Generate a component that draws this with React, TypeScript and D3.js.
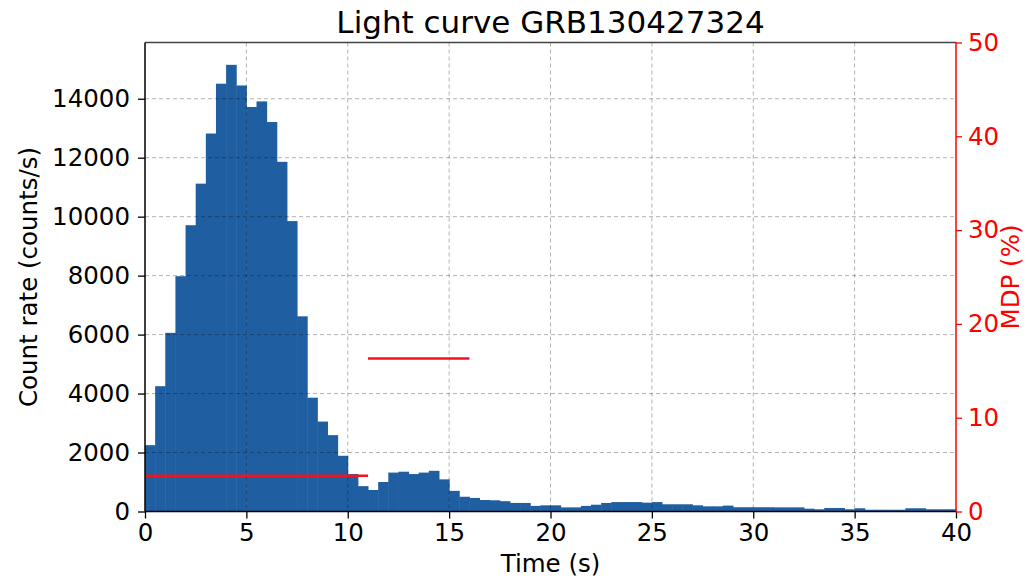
import React, { useRef, useEffect } from "react";
import * as d3 from "d3";

// light curve, 0.5 s bins from 0 to 40 s
const binWidth = 0.5;
const countRates = [
  2250, 4250, 6060, 7980, 9710, 11120, 12820, 14510, 15150, 14450,
  13720, 13910, 13210, 11860, 9850, 6620, 3860, 3050, 2590, 1890,
  1270, 860, 730, 1000, 1320, 1350, 1270, 1320, 1380, 1090,
  700, 500, 460, 390, 380, 350, 290, 290, 190, 210,
  210, 140, 140, 190, 230, 290, 320, 320, 320, 300,
  320, 245, 245, 245, 210, 175, 175, 200, 145, 145,
  145, 145, 140, 140, 140, 95, 75, 120, 120, 75,
  110, 60, 60, 60, 60, 110, 110, 75, 75, 75,
];

// MDP segments [start, end, mdp %]
const mdpSegments: [number, number, number][] = [
  [0, 11, 3.8],
  [11, 16, 16.3],
];

const xTicks = [0, 5, 10, 15, 20, 25, 30, 35, 40];
const yTicks = [0, 2000, 4000, 6000, 8000, 10000, 12000, 14000];
const mdpTicks = [0, 10, 20, 30, 40, 50];

const W = 1026;
const H = 579;
const margin = { top: 42.5, right: 70, bottom: 67.5, left: 145 };

const App: React.FC = () => {
  const svgRef = useRef<SVGSVGElement>(null);

  useEffect(() => {
    const svg = d3.select(svgRef.current);
    svg.selectAll("*").remove();
    const font = "DejaVu Sans, sans-serif";
    const fs = 24.5;
    const left = margin.left;
    const right = W - margin.right;
    const top = margin.top;
    const bottom = H - margin.bottom;

    const x = d3.scaleLinear().domain([0, 40]).range([left, right]);
    const yMax = (d3.max(countRates) ?? 0) * 1.05;
    const y = d3.scaleLinear().domain([0, yMax]).range([bottom, top]);
    const y2 = d3.scaleLinear().domain([0, 50]).range([bottom, top]);

    svg
      .append("g")
      .selectAll("rect")
      .data(countRates)
      .enter()
      .append("rect")
      .attr("x", (_d: number, i: number) => x(i * binWidth))
      .attr("y", (d: number) => y(d))
      .attr("width", x(binWidth) - x(0) + 0.5)
      .attr("height", (d: number) => y(0) - y(d))
      .attr("fill", "#1f5fa1");

    const grid = svg
      .append("g")
      .attr("stroke", "#000")
      .attr("stroke-opacity", 0.3)
      .attr("stroke-width", 1)
      .attr("stroke-dasharray", "4,3");
    grid
      .selectAll(".gx")
      .data(xTicks.slice(1, -1))
      .enter()
      .append("line")
      .attr("x1", (d: number) => x(d))
      .attr("x2", (d: number) => x(d))
      .attr("y1", top)
      .attr("y2", bottom);
    grid
      .selectAll(".gy")
      .data(yTicks.slice(1))
      .enter()
      .append("line")
      .attr("x1", left)
      .attr("x2", right)
      .attr("y1", (d: number) => y(d))
      .attr("y2", (d: number) => y(d));

    svg
      .append("g")
      .selectAll("line")
      .data(mdpSegments)
      .enter()
      .append("line")
      .attr("x1", (d: [number, number, number]) => x(d[0]))
      .attr("x2", (d: [number, number, number]) => x(d[1]))
      .attr("y1", (d: [number, number, number]) => y2(d[2]))
      .attr("y2", (d: [number, number, number]) => y2(d[2]))
      .attr("stroke", "#f0141e")
      .attr("stroke-width", 2.5);

    // spines
    svg.append("line").attr("x1", left).attr("x2", right).attr("y1", top).attr("y2", top)
      .attr("stroke", "#444").attr("stroke-width", 1.5);
    svg.append("line").attr("x1", left).attr("x2", right).attr("y1", bottom).attr("y2", bottom)
      .attr("stroke", "#000").attr("stroke-width", 1.5);
    svg.append("line").attr("x1", left).attr("x2", left).attr("y1", top).attr("y2", bottom)
      .attr("stroke", "#000").attr("stroke-width", 1.5);
    svg.append("line").attr("x1", right).attr("x2", right).attr("y1", top).attr("y2", bottom)
      .attr("stroke", "#ff0000").attr("stroke-width", 1.5);

    const xAxis = svg
      .append("g")
      .attr("transform", `translate(0,${bottom})`)
      .call(d3.axisBottom(x).tickValues(xTicks).tickSize(7).tickPadding(5));
    const yAxis = svg
      .append("g")
      .attr("transform", `translate(${left},0)`)
      .call(d3.axisLeft(y).tickValues(yTicks).tickSize(7).tickPadding(8).tickFormat(d3.format("d")));
    const y2Axis = svg
      .append("g")
      .attr("transform", `translate(${right},0)`)
      .call(d3.axisRight(y2).tickValues(mdpTicks).tickSize(6).tickPadding(6));

    [xAxis, yAxis, y2Axis].forEach((g) => {
      g.select(".domain").remove();
      g.selectAll("text").attr("font-family", font).attr("font-size", fs);
      g.selectAll("line").attr("stroke-width", 1.3);
    });
    xAxis.selectAll("text").attr("fill", "#000");
    yAxis.selectAll("text").attr("fill", "#000");
    y2Axis.selectAll("line").attr("stroke", "#ff0000");
    y2Axis.selectAll("text").attr("fill", "#ff0000");

    svg
      .append("text")
      .attr("x", (left + right) / 2)
      .attr("y", 33)
      .attr("text-anchor", "middle")
      .attr("font-family", font)
      .attr("font-size", 31)
      .text("Light curve GRB130427324");

    svg
      .append("text")
      .attr("x", (left + right) / 2)
      .attr("y", 572)
      .attr("text-anchor", "middle")
      .attr("font-family", font)
      .attr("font-size", fs)
      .text("Time (s)");

    svg
      .append("text")
      .attr("transform", `translate(37,${(top + bottom) / 2}) rotate(-90)`)
      .attr("text-anchor", "middle")
      .attr("font-family", font)
      .attr("font-size", fs)
      .text("Count rate (counts/s)");

    svg
      .append("text")
      .attr("transform", `translate(1019,${(top + bottom) / 2}) rotate(-90)`)
      .attr("text-anchor", "middle")
      .attr("font-family", font)
      .attr("font-size", fs)
      .attr("fill", "#ff0000")
      .text("MDP (%)");
  }, []);

  return (
    <div style={{ position: "absolute", left: 0, top: 0 }}>
      <svg ref={svgRef} width={W} height={H} style={{ display: "block", background: "#fff" }}></svg>
    </div>
  );
};

export default App;
